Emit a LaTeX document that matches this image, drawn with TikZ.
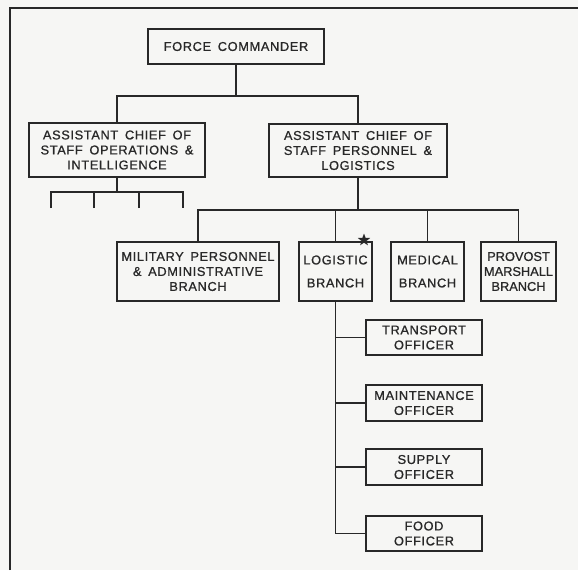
\documentclass[tikz,border=0pt]{standalone}
\usepackage{fontspec}
\setmainfont{Liberation Sans}[LetterSpace=5, FakeBold=0.9, WordSpace=1.6]
\usetikzlibrary{shapes.geometric}
\definecolor{paper}{RGB}{246,246,244}
\definecolor{ink}{RGB}{40,40,40}
\tikzset{
  box/.style={draw=ink, line width=1.4pt, rectangle, align=center, inner sep=1pt,
    font=\fontsize{12.8}{15}\selectfont, text=ink},
  conn/.style={draw=ink, line width=1.4pt},
  frameline/.style={draw=ink, line width=2.4pt},
}
\begin{document}
\begin{tikzpicture}[x=1pt,y=-1pt]
\fill[paper] (0,0) rectangle (578,570);
\useasboundingbox (0,0) rectangle (578,570);
% frame
\coordinate (f1) at (10,570);
\coordinate (f2) at (10,8);
\coordinate (f3) at (578,8);
\draw[frameline] (f1) -- (f2) -- (f3);
% boxes
\node[box, minimum width=176, minimum height=35] (FC) at (236,46.5) {FORCE COMMANDER};
\node[box, minimum width=176, minimum height=54] (OI) at (117,150) {ASSISTANT CHIEF OF\\STAFF OPERATIONS \&\\INTELLIGENCE};
\node[box, minimum width=178, minimum height=53] (PL) at (358,150.5) {ASSISTANT CHIEF OF\\STAFF PERSONNEL \&\\LOGISTICS};
\node[box, minimum width=162, minimum height=59] (MIL) at (198,271.5) {MILITARY PERSONNEL\\\& ADMINISTRATIVE\\BRANCH};
\node[box, minimum width=73, minimum height=59] (LOG) at (335.5,271.5) {LOGISTIC\\[8pt]BRANCH};
\node[box, minimum width=73, minimum height=59] (MED) at (427.5,271.5) {MEDICAL\\[8pt]BRANCH};
\node[box, minimum width=75, minimum height=59, inner sep=0pt, font=\fontsize{12.8}{15}\selectfont\addfontfeature{LetterSpace=0}] (PRO) at (518.5,271.5) {PROVOST\\MARSHALL\\BRANCH};
\node[box, minimum width=116, minimum height=35] (TR) at (424,337.5) {TRANSPORT\\OFFICER};
\node[box, minimum width=116, minimum height=36] (MA) at (424,403) {MAINTENANCE\\OFFICER};
\node[box, minimum width=116, minimum height=36] (SU) at (424,467) {SUPPLY\\OFFICER};
\node[box, minimum width=116, minimum height=35] (FO) at (424,533.5) {FOOD\\OFFICER};
\node[star, star points=5, star point ratio=2.4, fill=ink, inner sep=0pt, minimum size=13pt] (ST) at (364,240) {};
% junctions
\coordinate (j1) at (236,96);
\coordinate (j2) at (117,192);
\coordinate (j3) at (358,210);
\coordinate (t1) at (51,208);
\coordinate (t2) at (94,208);
\coordinate (t3) at (139,208);
\coordinate (t4) at (183,208);
% connectors
\draw[conn] (FC.south) -- (j1);
\draw[conn] (OI.north) |- (j1) -| (PL.north);
\draw[conn] (OI.south) -- (j2);
\draw[conn] (t1) |- (j2) -| (t4);
\draw[conn] (t2) -- (t2 |- j2);
\draw[conn] (t3) -- (t3 |- j2);
\draw[conn] (PL.south) -- (j3);
\draw[conn] (MIL.north) |- (j3) -| (PRO.north);
\draw[conn] (LOG.north) -- (LOG.north |- j3);
\draw[conn] (MED.north) -- (MED.north |- j3);
\draw[conn] (LOG.south) |- (FO.west);
\draw[conn] (TR.west) -- (TR.west -| LOG.south);
\draw[conn] (MA.west) -- (MA.west -| LOG.south);
\draw[conn] (SU.west) -- (SU.west -| LOG.south);
\end{tikzpicture}
\end{document}
